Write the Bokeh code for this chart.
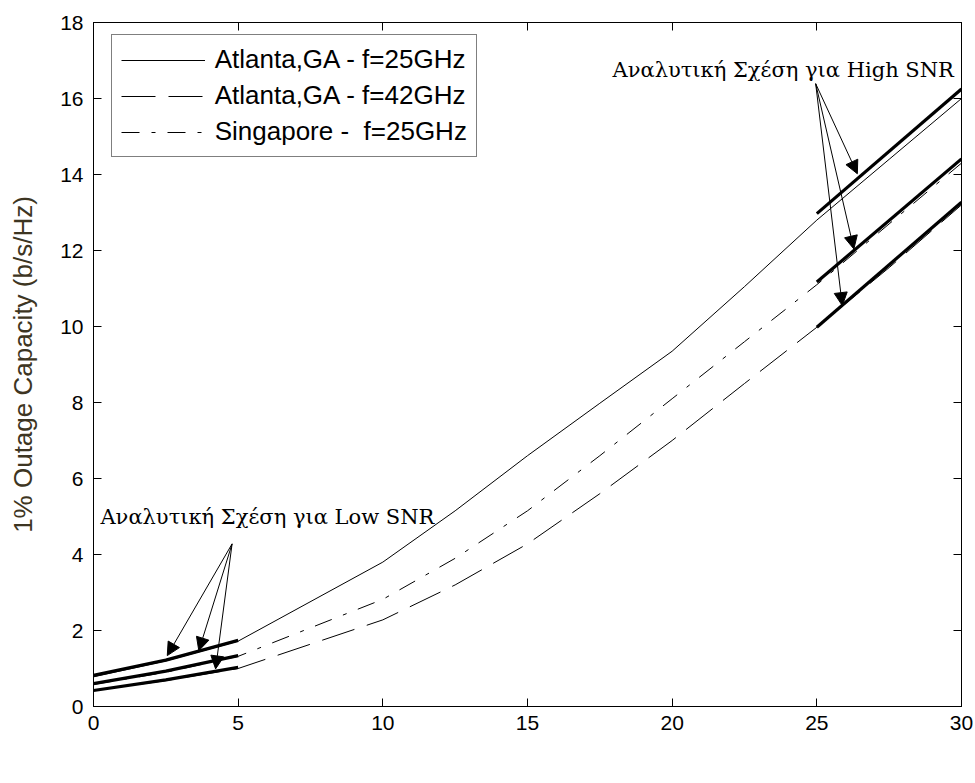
from bokeh.plotting import figure
from bokeh.models import (LinearAxis, Range1d, Label, Arrow, NormalHead, Legend,
                          LegendItem, FixedTicker, ColumnDataSource)
from bokeh.embed import file_html
from bokeh.resources import INLINE

# ---------------- data ----------------
snr = [0, 2.5, 5, 10, 12.5, 15, 17.5, 20, 22.5, 25, 27.5, 30]
atl25 = [0.78, 1.2, 1.72, 3.8, 5.15, 6.6, 7.98, 9.35, 11.05, 12.8, 14.4, 16.0]
sing25 = [0.58, 0.9, 1.32, 2.82, 3.9, 5.15, 6.6, 8.1, 9.6, 11.1, 12.7, 14.3]
atl42 = [0.42, 0.68, 1.0, 2.28, 3.2, 4.28, 5.6, 7.0, 8.5, 9.98, 11.55, 13.2]

# analytic approximations
low_snr = [0, 2.5, 5]
low_atl25 = [0.82, 1.22, 1.74]
low_sing25 = [0.6, 0.93, 1.34]
low_atl42 = [0.42, 0.7, 1.03]

high_snr = [25, 30]
high_atl25 = [12.97, 16.25]
high_sing25 = [11.17, 14.41]
high_atl42 = [9.98, 13.27]

legend_labels = ["Atlanta,GA - f=25GHz", "Atlanta,GA - f=42GHz", "Singapore -  f=25GHz"]
x_ticks = [0, 5, 10, 15, 20, 25, 30]
y_ticks = [0, 2, 4, 6, 8, 10, 12, 14, 16, 18]

high_text = "Αναλυτική Σχέση για High SNR"
low_text = "Αναλυτική Σχέση για Low SNR"
high_arrow_start = (24.96, 16.39)
high_arrow_end_x = [26.4, 26.28, 25.88]
high_arrow_end_y = [14.02, 12.04, 10.55]
low_arrow_start = (4.79, 4.28)
low_arrow_end_x = [2.55, 3.64, 4.22]
low_arrow_end_y = [1.34, 1.47, 0.99]

# ---------------- figure ----------------
p = figure(frame_width=868, frame_height=684,
           x_range=Range1d(0, 30), y_range=Range1d(0, 18),
           output_backend="svg", toolbar_location=None,
           min_border_left=93, min_border_top=22, min_border_right=14, min_border_bottom=77)
p.xgrid.visible = False
p.ygrid.visible = False
p.outline_line_color = "black"
p.background_fill_color = "white"
p.border_fill_color = "white"

TICK_FONT = "Liberation Sans"
for ax in (p.xaxis[0], p.yaxis[0]):
    ax.major_tick_in = 8
    ax.major_tick_out = 0
    ax.minor_tick_line_color = None
    ax.axis_line_color = "black"
    ax.major_tick_line_color = "black"
    ax.major_label_text_font = TICK_FONT
    ax.major_label_text_font_size = "21px"
    ax.major_label_text_color = "black"
p.xaxis[0].ticker = FixedTicker(ticks=x_ticks)
p.yaxis[0].ticker = FixedTicker(ticks=y_ticks)
p.xaxis[0].major_label_standoff = 9
p.yaxis[0].major_label_standoff = 10
p.yaxis[0].axis_label = "1% Outage Capacity (b/s/Hz)"
p.yaxis[0].axis_label_text_font = TICK_FONT
p.yaxis[0].axis_label_text_font_size = "26px"
p.yaxis[0].axis_label_text_font_style = "normal"
p.yaxis[0].axis_label_text_color = "#3d3522"
p.yaxis[0].axis_label_standoff = 19

for loc, ticks in (("above", x_ticks), ("right", y_ticks)):
    ax = LinearAxis(ticker=FixedTicker(ticks=ticks), major_tick_in=8, major_tick_out=0,
                    minor_tick_line_color=None, major_label_text_font_size="1px",
                    major_label_text_color=None, major_label_standoff=0,
                    axis_line_color="black", major_tick_line_color="black")
    p.add_layout(ax, loc)

# numeric curves
r1 = p.line(snr, atl25, line_color="black", line_width=1)
r2 = p.line(snr, atl42, line_color="black", line_width=1, line_dash="34 13")
r3 = p.line(snr, sing25, line_color="black", line_width=1, line_dash="18 12 4 12")

# analytic (thick) lines
for ys in (low_atl25, low_sing25, low_atl42):
    p.line(low_snr, ys, line_color="black", line_width=3.2)
for ys in (high_atl25, high_sing25, high_atl42):
    p.line(high_snr, ys, line_color="black", line_width=3.2)

# arrows
hsrc = ColumnDataSource(dict(x0=[high_arrow_start[0]] * 3, y0=[high_arrow_start[1]] * 3,
                             x1=high_arrow_end_x, y1=high_arrow_end_y))
lsrc = ColumnDataSource(dict(x0=[low_arrow_start[0]] * 3, y0=[low_arrow_start[1]] * 3,
                             x1=low_arrow_end_x, y1=low_arrow_end_y))
for src in (hsrc, lsrc):
    p.add_layout(Arrow(end=NormalHead(size=13, fill_color="black", line_color="black", line_width=1),
                       x_start="x0", y_start="y0", x_end="x1", y_end="y1",
                       line_color="black", line_width=1, source=src))

SERIF = "DejaVu Serif"
p.add_layout(Label(x=17.94, y=16.75, text=high_text, text_font=SERIF,
                   text_font_size="21px", text_baseline="alphabetic", text_color="black"))
p.add_layout(Label(x=0.24, y=4.98, text=low_text, text_font=SERIF,
                   text_font_size="21px", text_baseline="alphabetic", text_color="black"))

# x-axis label with subscript
p.add_layout(Label(x=12.34, y=-1.55, text="SNR", text_font=TICK_FONT, text_font_size="21px",
                   text_baseline="alphabetic", text_color="black"))
p.add_layout(Label(x=14.17, y=-1.76, text="CS1", text_font=TICK_FONT, text_font_size="16px",
                   text_baseline="alphabetic", text_color="black"))
p.add_layout(Label(x=15.8, y=-1.55, text="(dB)", text_font=TICK_FONT, text_font_size="21px",
                   text_baseline="alphabetic", text_color="black"))

legend = Legend(items=[LegendItem(label=legend_labels[0], renderers=[r1]),
                       LegendItem(label=legend_labels[1], renderers=[r2]),
                       LegendItem(label=legend_labels[2], renderers=[r3])],
                location=(17.7, 549))
legend.glyph_width = 84
legend.glyph_height = 26
legend.label_height = 26
legend.spacing = 5
legend.padding = 9
legend.margin = 0
legend.label_standoff = 10
legend.label_text_font = TICK_FONT
legend.label_text_font_size = "26px"
legend.label_text_color = "black"
legend.border_line_color = "black"
legend.border_line_width = 1
legend.background_fill_color = "white"
legend.background_fill_alpha = 1
p.add_layout(legend)

open("out.html", "w").write(file_html(p, INLINE))
